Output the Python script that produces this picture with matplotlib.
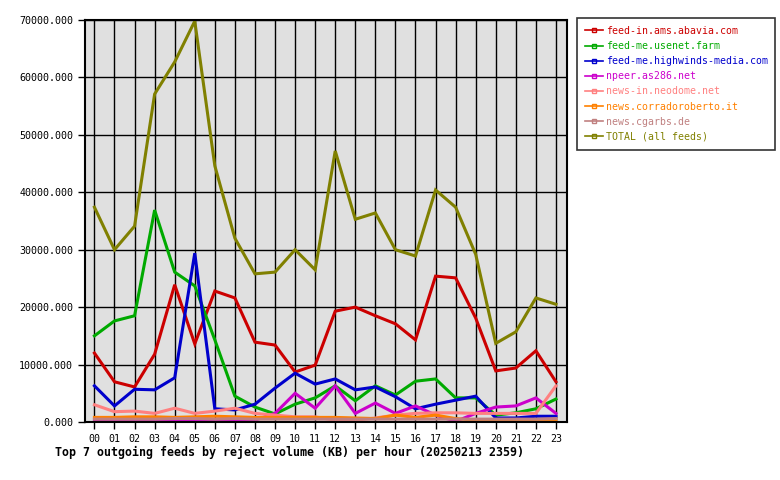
import matplotlib
matplotlib.use("Agg")
import matplotlib.pyplot as plt
from matplotlib.lines import Line2D

hours = ["%02d" % h for h in range(24)]

feed_in_ams = [12000, 7000, 6100, 11800, 23900, 13600, 22800, 21600, 13900, 13400, 8700, 9900,
               19300, 20000, 18500, 17100, 14300, 25400, 25100, 18100, 8900, 9400, 12400, 7000]
feed_me_usenet = [15000, 17600, 18500, 36900, 26100, 23700, 14300, 4500, 2600, 1400, 3100, 4200,
                  6300, 3700, 6300, 4700, 7100, 7500, 4200, 4200, 1200, 1600, 2300, 4000]
feed_me_highwinds = [6300, 2800, 5700, 5600, 7700, 29400, 2300, 2100, 3100, 5900, 8500, 6600,
                     7500, 5600, 6100, 4400, 2300, 3100, 3800, 4500, 700, 700, 1000, 1000]
npeer = [200, 200, 300, 200, 200, 200, 300, 200, 300, 1500, 5000, 2400,
         6300, 1500, 3300, 1500, 2800, 1200, 100, 1500, 2600, 2800, 4200, 1500]
neodome = [3000, 1800, 1900, 1500, 2400, 1500, 1900, 2400, 1500, 1200, 900, 900,
           300, 300, 700, 1200, 1500, 1600, 1600, 1500, 1500, 1500, 1500, 6300]
corradoroberto = [800, 800, 900, 900, 800, 900, 1000, 900, 800, 800, 800, 800,
                  800, 700, 600, 1200, 800, 1200, 600, 300, 300, 300, 300, 300]
cgarbs = [500, 500, 500, 500, 600, 600, 500, 600, 500, 500, 500, 500,
          500, 500, 500, 500, 500, 500, 500, 500, 500, 500, 500, 600]
total = [37400, 30000, 34100, 57100, 62700, 69800, 44600, 32000, 25800, 26100, 30000, 26500,
         47200, 35300, 36400, 30000, 28900, 40400, 37400, 29200, 13700, 15700, 21600, 20500]

names = ["feed-in.ams.abavia.com", "feed-me.usenet.farm", "feed-me.highwinds-media.com",
         "npeer.as286.net", "news-in.neodome.net", "news.corradoroberto.it",
         "news.cgarbs.de", "TOTAL (all feeds)"]
series = [feed_in_ams, feed_me_usenet, feed_me_highwinds, npeer, neodome,
          corradoroberto, cgarbs, total]
colors = ["#cc0000", "#00aa00", "#0000cc", "#cc00cc", "#ff8080", "#ff8000", "#c08080", "#808000"]

plt.rcParams['font.family'] = ['DejaVu Sans Mono']

fig = plt.figure(figsize=(7.8, 4.8), dpi=100)
ax = fig.add_axes([85/780, 1-422/480, (567-85)/780, (422-20)/480])
ax.set_facecolor("#e0e0e0")

x = list(range(24))
for s, c in zip(series, colors):
    ax.plot(x, s, color=c, lw=2.2, solid_joinstyle='miter')

ax.set_xlim(-0.47, 23.55)
ax.set_ylim(0, 70000)
ax.set_xticks(x)
ax.set_xticklabels(hours)
yt = list(range(0, 70001, 10000))
ax.set_yticks(yt)
ax.set_yticklabels(["%.3f" % v for v in yt])
ax.grid(True, color="black", lw=1)
ax.set_axisbelow(True)
ax.tick_params(labelsize=7.2, length=5, width=1, color="black")
for sp in ax.spines.values():
    sp.set_linewidth(1.5)
    sp.set_color("black")

handles = [Line2D([0], [0], color=c, lw=1.2, marker='s', markersize=3,
                  markerfacecolor='none', markeredgecolor=c) for c in colors]
leg = fig.legend(handles, names, loc='upper left', bbox_to_anchor=(577/780, 1-18/480),
                 fontsize=7.1, frameon=True, fancybox=False, edgecolor='black',
                 handlelength=1.8, handletextpad=0.3, labelspacing=0.52, borderpad=0.8,
                 borderaxespad=0)
leg.get_frame().set_linewidth(1.2)
for t, c in zip(leg.get_texts(), colors):
    t.set_color(c)

fig.text(55/780, 1-452/480, "Top 7 outgoing feeds by reject volume (KB) per hour (20250213 2359)",
         fontsize=8.4, fontweight='bold', ha='left', va='center')

fig.savefig("out.png", dpi=100)
